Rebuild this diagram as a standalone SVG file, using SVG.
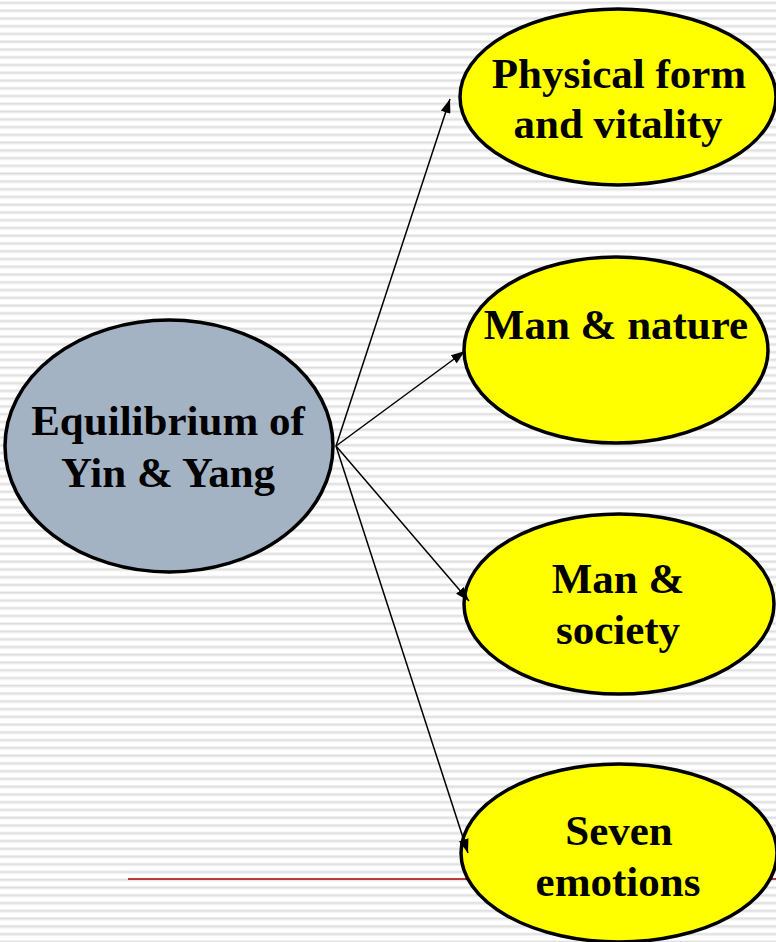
<svg xmlns="http://www.w3.org/2000/svg" width="776" height="942" viewBox="0 0 776 942">
  <defs>
    <pattern id="stripes" x="0" y="1.3" width="776" height="7.76" patternUnits="userSpaceOnUse">
      <rect x="0" y="0" width="776" height="7.76" fill="#ffffff"/>
      <rect x="0" y="0" width="776" height="1" fill="#eeeeee"/>
      <rect x="0" y="1" width="776" height="1.6" fill="#dcdcdc"/>
      <rect x="0" y="2.6" width="776" height="0.8" fill="#eeeeee"/>
    </pattern>
    <marker id="arrow" viewBox="0 0 14 10" refX="14" refY="5" markerWidth="14" markerHeight="10" markerUnits="userSpaceOnUse" orient="auto">
      <path d="M0,0 L14,5 L0,10 Z" fill="#000"/>
    </marker>
  </defs>
  <style>
    .node { stroke: #000; stroke-width: 3.5; }
    .center { fill: #a4b3c3; }
    .leaf { fill: #ffff00; }
    .label { font-family: "Liberation Serif", "Times New Roman", serif; font-weight: bold; font-size: 43px; fill: #000; text-anchor: middle; }
    .conn { stroke: #000; stroke-width: 1.5; fill: none; marker-end: url(#arrow); }
  </style>
  <rect x="0" y="0" width="776" height="942" fill="url(#stripes)"/>
  <line x1="128" y1="879" x2="776" y2="879" stroke="#b00000" stroke-width="1.3"/>
  <g id="equilibrium">
    <ellipse class="node center" cx="169" cy="446" rx="164" ry="126"/>
    <text class="label" x="168" y="435">Equilibrium of</text>
    <text class="label" x="168" y="487">Yin &amp; Yang</text>
  </g>
  <g id="physical">
    <ellipse class="node leaf" cx="618" cy="97" rx="158" ry="88"/>
    <text class="label" x="619" y="88">Physical form</text>
    <text class="label" x="618" y="138">and vitality</text>
  </g>
  <g id="nature">
    <ellipse class="node leaf" cx="616" cy="350" rx="152" ry="93"/>
    <text class="label" x="616" y="339">Man &amp; nature</text>
  </g>
  <g id="society">
    <ellipse class="node leaf" cx="619" cy="604" rx="155" ry="90"/>
    <text class="label" x="618" y="593">Man &amp;</text>
    <text class="label" x="618" y="644">society</text>
  </g>
  <g id="emotions">
    <ellipse class="node leaf" cx="619" cy="853" rx="158" ry="89"/>
    <text class="label" x="619" y="845">Seven</text>
    <text class="label" x="618" y="896">emotions</text>
  </g>
  <g id="connectors">
    <line class="conn" x1="336" y1="446" x2="450" y2="99"/>
    <line class="conn" x1="336" y1="446" x2="465" y2="351"/>
    <line class="conn" x1="336" y1="446" x2="469" y2="601"/>
    <line class="conn" x1="336" y1="446" x2="468" y2="853"/>
  </g>
</svg>
